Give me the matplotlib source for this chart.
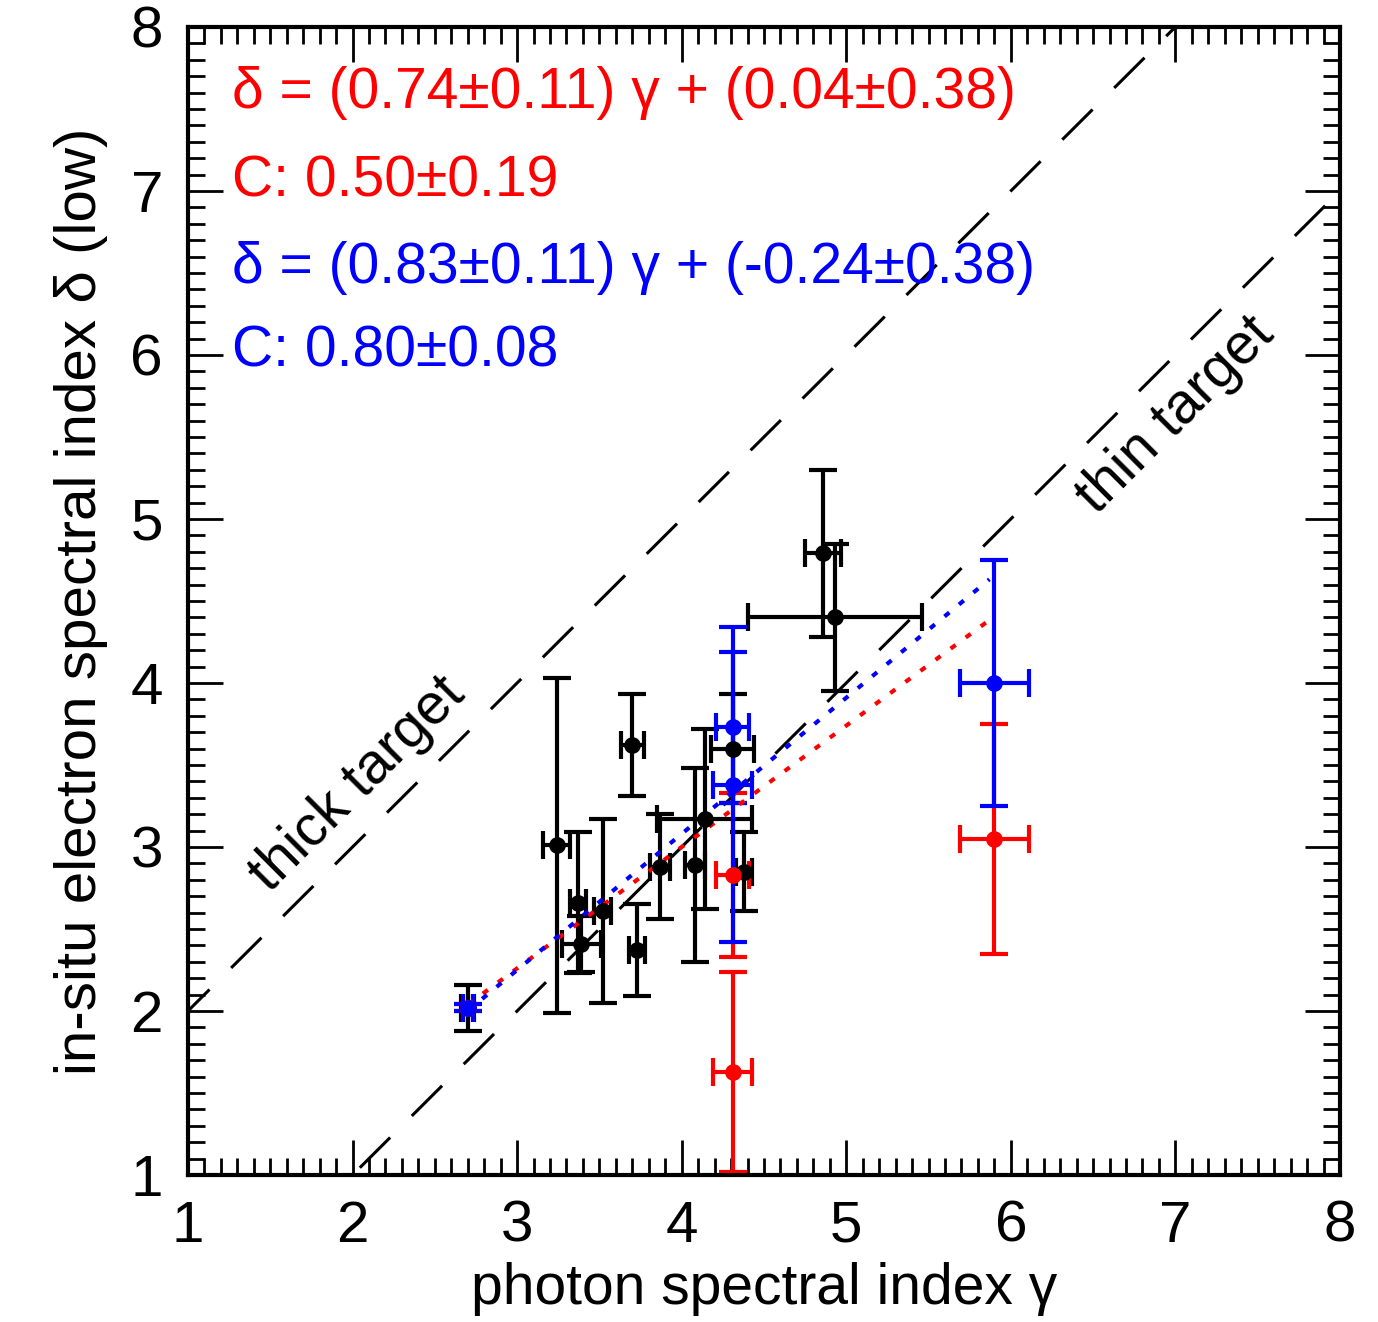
import numpy as np
import matplotlib
matplotlib.use("Agg")
import matplotlib.pyplot as plt
from matplotlib.ticker import MultipleLocator

plt.rcParams['font.family'] = ['Liberation Sans', 'DejaVu Sans']

# black points (all events)
bx = [2.70, 3.24, 3.37, 3.39, 3.52, 3.70, 3.73, 3.87, 4.08, 4.14, 4.31, 4.38, 4.86, 4.93]
by = [2.02, 3.01, 2.66, 2.41, 2.61, 3.62, 2.37, 2.88, 2.89, 3.17, 3.60, 2.85, 4.79, 4.40]
bxerr = [0.04, 0.08, 0.05, 0.12, 0.05, 0.07, 0.05, 0.06, 0.06, 0.29, 0.13, 0.05, 0.11, 0.53]
byerr = [0.14, 1.02, 0.43, 0.17, 0.56, 0.31, 0.28, 0.32, 0.59, 0.55, 0.33, 0.24, 0.51, 0.45]

# red points
rx = [2.70, 4.31, 4.31, 5.90]
ry = [2.02, 2.83, 1.63, 3.05]
rxerr = [0.03, 0.10, 0.12, 0.21]
ryerr = [0.02, 0.50, 0.61, 0.70]

# blue points
blx = [2.70, 4.31, 4.31, 5.90]
bly = [2.02, 3.73, 3.38, 4.00]
blxerr = [0.03, 0.10, 0.12, 0.21]
blyerr = [0.02, 0.46, 0.96, 0.75]

# fits
red_fit = (0.74, 0.04)
blue_fit = (0.83, -0.24)
fit_range = (2.70, 5.87)

fig = plt.figure(figsize=(13.78, 13.22), dpi=100)
ax = fig.add_axes([0.1364, 0.1112, 0.836, 0.8684])

# thick / thin target lines
g = np.array([0, 9])
ax.plot(g, g + 1, color='black', lw=2.2, dashes=(14, 10))
ax.plot(g, g - 1, color='black', lw=2.2, dashes=(14, 10))

ekw = dict(fmt='o', ms=11, elinewidth=3, capsize=10, capthick=3)
ax.errorbar(bx, by, xerr=bxerr, yerr=byerr, color='black', **ekw)
ax.errorbar(rx, ry, xerr=rxerr, yerr=ryerr, color='red', **ekw)
ax.errorbar(blx, bly, xerr=blxerr, yerr=blyerr, color='blue', **ekw)

gf = np.array(fit_range)
ax.plot(gf, red_fit[0] * gf + red_fit[1], color='red', lw=3, dashes=(1.5, 3))
ax.plot(gf, blue_fit[0] * gf + blue_fit[1], color='blue', lw=3, dashes=(1.5, 3))

fs = 41
ax.text(2.03, 3.38, 'thick target', rotation=45, fontsize=fs,
        ha='center', va='center', rotation_mode='anchor')
ax.text(7.0, 5.63, 'thin target', rotation=45, fontsize=fs,
        ha='center', va='center', rotation_mode='anchor')

ax.text(1.27, 7.60, 'δ = (0.74±0.11) γ + (0.04±0.38)', color='red', fontsize=fs, va='center')
ax.text(1.27, 7.06, 'C: 0.50±0.19', color='red', fontsize=fs, va='center')
ax.text(1.27, 6.53, 'δ = (0.83±0.11) γ + (-0.24±0.38)', color='blue', fontsize=fs, va='center')
ax.text(1.27, 6.02, 'C: 0.80±0.08', color='blue', fontsize=fs, va='center')

ax.set_xlim(1, 8)
ax.set_ylim(1, 8)
ax.xaxis.set_major_locator(MultipleLocator(1))
ax.yaxis.set_major_locator(MultipleLocator(1))
ax.xaxis.set_minor_locator(MultipleLocator(0.1))
ax.yaxis.set_minor_locator(MultipleLocator(0.1))
ax.tick_params(which='both', direction='in', top=True, right=True, width=2)
ax.tick_params(which='major', length=25, labelsize=42, pad=18)
ax.tick_params(which='minor', length=12)
for s in ax.spines.values():
    s.set_linewidth(3)

ax.set_xlabel('photon spectral index γ', fontsize=41, labelpad=6)
ax.set_ylabel('in-situ electron spectral index δ (low)', fontsize=42, labelpad=16)

fig.savefig('out.png', dpi=100)
